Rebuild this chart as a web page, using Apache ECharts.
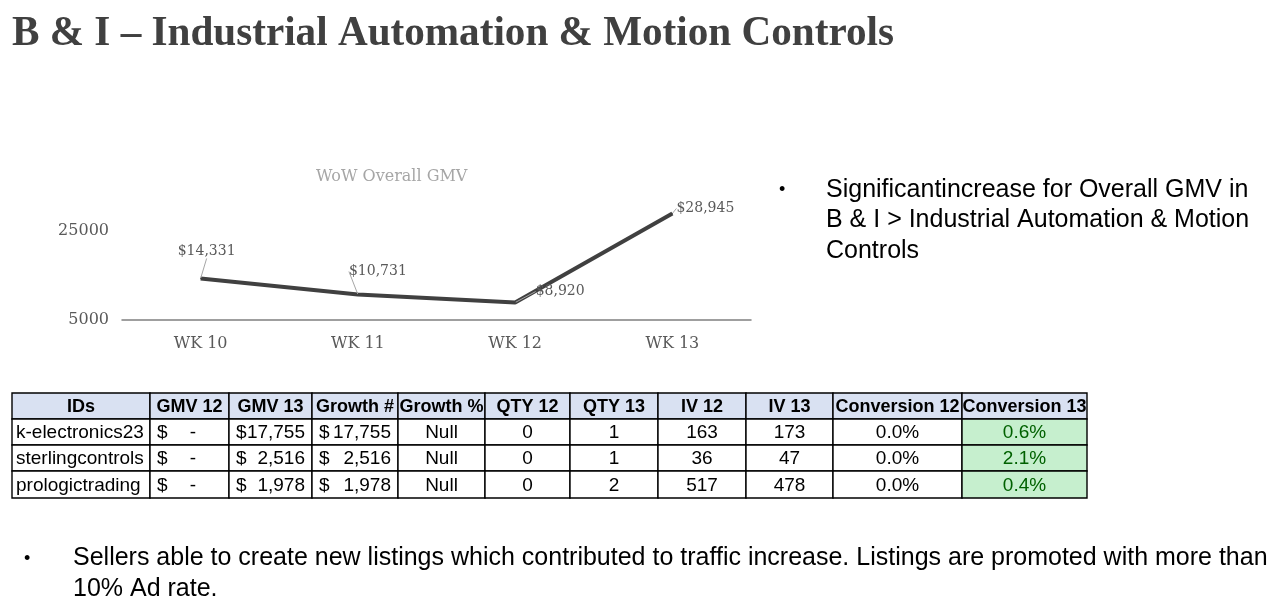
<!DOCTYPE html>
<html><head><meta charset="utf-8">
<script src="https://cdn.jsdelivr.net/npm/echarts@6/dist/echarts.min.js"></script>
<style>html,body{margin:0;padding:0;background:#fff;overflow:hidden}#c{width:1287px;height:601px}</style>
</head><body><div id="c"></div>
<script>
// ---- Data ----
const pageTitle = 'B & I \u2013 Industrial Automation & Motion Controls';
const chartTitle = 'WoW Overall GMV';
const weeks = ['WK 10', 'WK 11', 'WK 12', 'WK 13'];
const gmv = [14331, 10731, 8920, 28945];
const yMin = 5000, yMax = 25000, yStep = 20000;

const tableHeaders = ['IDs', 'GMV 12', 'GMV 13', 'Growth #', 'Growth %', 'QTY 12', 'QTY 13', 'IV 12', 'IV 13', 'Conversion 12', 'Conversion 13'];
const sellerIds = ['k-electronics23', 'sterlingcontrols', 'prologictrading'];
const gmv12 = [0, 0, 0];
const gmv13 = [17755, 2516, 1978];
const growthNum = [17755, 2516, 1978];
const growthPct = ['Null', 'Null', 'Null'];
const qty12 = [0, 0, 0];
const qty13 = [1, 1, 2];
const iv12 = [163, 36, 517];
const iv13 = [173, 47, 478];
const conv12 = [0.0, 0.0, 0.0];
const conv13 = [0.6, 2.1, 0.4];

const bulletRight = ['Significantincrease for Overall GMV in', 'B & I > Industrial Automation & Motion', 'Controls'];
const bulletBottom = ['Sellers able to create new listings which contributed to traffic increase. Listings are promoted with more than', '10% Ad rate.'];

// ---- Layout / styling ----
const serif = '"DejaVu Serif", serif';
const sans = '"Liberation Sans", Arial, sans-serif';
const labelOffsets = [[6, -27], [20, -23], [45, -11], [33, -5]];
const colX = [12, 150, 229, 312, 398, 485, 570, 658, 746, 833, 962, 1087];
const rowY = [393, 419, 445, 471, 498];

const fmtNum = v => v.toLocaleString('en-US');
const fmtPct = v => v.toFixed(1) + '%';

const graphics = [];
// page title
graphics.push({
  type: 'text', x: 12, y: 13, scaleX: 0.98,
  style: { text: pageTitle, font: 'bold 42px "Liberation Serif", serif', fill: '#404040', verticalAlign: 'top' }
});
// right bullet
graphics.push({ type: 'text', x: 779, y: 190, style: { text: '\u2022', font: '18px ' + sans, fill: '#000', verticalAlign: 'middle' } });
bulletRight.forEach((t, i) => {
  graphics.push({ type: 'text', x: 826, y: 190 + i * 30.5, style: { text: t, font: '25px ' + sans, fill: '#000', verticalAlign: 'middle' } });
});
// bottom bullet
graphics.push({ type: 'text', x: 24, y: 559, style: { text: '\u2022', font: '18px ' + sans, fill: '#000', verticalAlign: 'middle' } });
bulletBottom.forEach((t, i) => {
  graphics.push({ type: 'text', x: 73, y: 558 + i * 31, style: { text: t, font: '25px ' + sans, fill: '#000', verticalAlign: 'middle' } });
});

// table
function cell(ci, ri, fill) {
  graphics.push({
    type: 'rect',
    shape: { x: colX[ci], y: rowY[ri], width: colX[ci + 1] - colX[ci], height: rowY[ri + 1] - rowY[ri] },
    style: { fill: fill, stroke: '#000', lineWidth: 1.4 }
  });
}
function txt(x, y, t, align, opts) {
  opts = opts || {};
  graphics.push({
    type: 'text', x: x, y: y, z: 10,
    style: { text: t, font: (opts.bold ? 'bold 18px ' : '19px ') + sans, fill: opts.color || '#000', align: align, verticalAlign: 'middle' }
  });
}
tableHeaders.forEach((h, ci) => {
  cell(ci, 0, '#d9e1f2');
  txt((colX[ci] + colX[ci + 1]) / 2, (rowY[0] + rowY[1]) / 2 + 1, h, 'center', { bold: true });
});
sellerIds.forEach((id, r) => {
  const ri = r + 1;
  const cy = (rowY[ri] + rowY[ri + 1]) / 2 + 1;
  for (let ci = 0; ci < tableHeaders.length; ci++) cell(ci, ri, ci === 10 ? '#c6efce' : '#fff');
  const mid = ci => (colX[ci] + colX[ci + 1]) / 2;
  txt(colX[0] + 4, cy, id, 'left');
  // accounting columns
  [[1, gmv12[r]], [2, gmv13[r]], [3, growthNum[r]]].forEach(([ci, v]) => {
    txt(colX[ci] + 7, cy, '$', 'left');
    if (v === 0) txt(colX[ci + 1] - 33, cy, '-', 'right');
    else txt(colX[ci + 1] - 7, cy, fmtNum(v), 'right');
  });
  txt(mid(4), cy, growthPct[r], 'center');
  txt(mid(5), cy, String(qty12[r]), 'center');
  txt(mid(6), cy, String(qty13[r]), 'center');
  txt(mid(7), cy, String(iv12[r]), 'center');
  txt(mid(8), cy, String(iv13[r]), 'center');
  txt(mid(9), cy, fmtPct(conv12[r]), 'center');
  txt(mid(10), cy, fmtPct(conv13[r]), 'center', { color: '#006100' });
});

const chart = echarts.init(document.getElementById('c'), null, { renderer: 'canvas' });
chart.setOption({
  animation: false,
  backgroundColor: '#fff',
  title: {
    text: chartTitle, left: 311, top: 164,
    textStyle: { fontFamily: serif, fontSize: 16, fontWeight: 'normal', color: '#a6a6a6' }
  },
  grid: { left: 122, right: 536, top: 231, bottom: 281, containLabel: false },
  xAxis: {
    type: 'category', data: weeks, boundaryGap: true,
    axisLine: { lineStyle: { color: '#808080', width: 1.5 } },
    axisTick: { show: false },
    axisLabel: { fontFamily: serif, fontSize: 16, color: '#595959', margin: 16 }
  },
  yAxis: {
    type: 'value', min: yMin, max: yMax, interval: yStep,
    axisLine: { show: false }, axisTick: { show: false }, splitLine: { show: false },
    axisLabel: { fontFamily: serif, fontSize: 16, color: '#595959', margin: 13, formatter: v => String(v) }
  },
  series: [{
    type: 'line', data: gmv, clip: false,
    symbol: 'circle', symbolSize: 1, showSymbol: true,
    lineStyle: { color: '#404040', width: 4 },
    itemStyle: { color: '#404040' },
    label: {
      show: true, position: 'inside', fontFamily: serif, fontSize: 14, color: '#595959',
      formatter: p => '$' + fmtNum(p.value)
    },
    labelLine: { show: true, lineStyle: { color: '#a6a6a6', width: 1 } },
    labelLayout: p => ({ dx: labelOffsets[p.dataIndex][0], dy: labelOffsets[p.dataIndex][1] })
  }],
  graphic: graphics
});
</script>
</body></html>
